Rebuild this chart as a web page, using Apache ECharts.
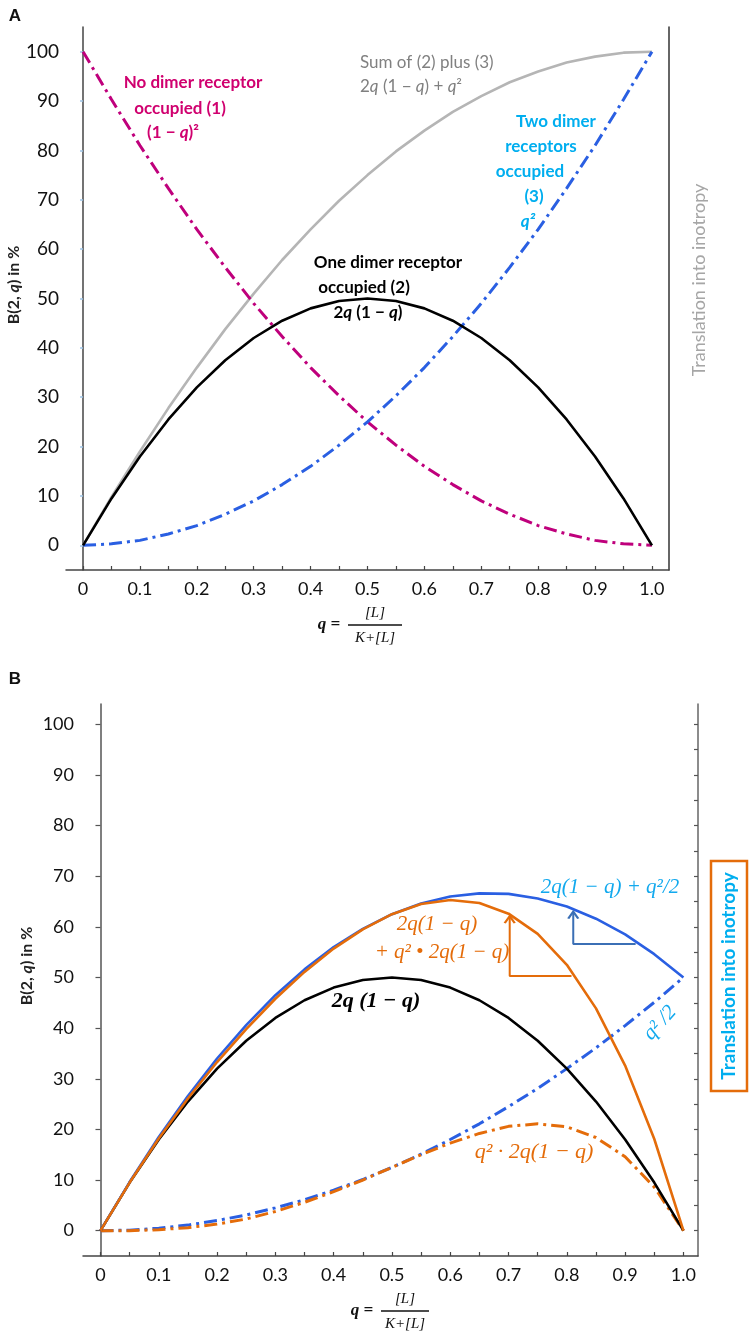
<!DOCTYPE html>
<html lang="en">
<head>
    <meta charset="UTF-8">
    <title>Dimer receptor occupancy</title>
    <script src="https://cdn.jsdelivr.net/npm/echarts@6.0.0/dist/echarts.min.js"></script>
    <style>
        html, body { margin: 0; padding: 0; background: #fff; }
        #chart { width: 751px; height: 1339px; }
    </style>
</head>
<body>
<div id="chart"></div>
<script>
    // q grid (kinks every 0.05)
    const qValues = [0, 0.05, 0.1, 0.15, 0.2, 0.25, 0.3, 0.35, 0.4, 0.45, 0.5,
        0.55, 0.6, 0.65, 0.7, 0.75, 0.8, 0.85, 0.9, 0.95, 1.0];

    // panel A
    const noDimer = [100, 90.3, 81, 72.3, 64, 56.3, 49, 42.3, 36, 30.3, 25,
        20.3, 16, 12.3, 9, 6.3, 4, 2.3, 1, 0.3, 0];
    const oneDimer = [0, 9.5, 18, 25.5, 32, 37.5, 42, 45.5, 48, 49.5, 50,
        49.5, 48, 45.5, 42, 37.5, 32, 25.5, 18, 9.5, 0];
    const twoDimer = [0, 0.3, 1, 2.3, 4, 6.3, 9, 12.3, 16, 20.3, 25,
        30.3, 36, 42.3, 49, 56.3, 64, 72.3, 81, 90.3, 100];
    const sumTwoThree = [0, 9.8, 19, 27.8, 36, 43.8, 51, 57.8, 64, 69.8, 75,
        79.8, 84, 87.8, 91, 93.8, 96, 97.8, 99, 99.8, 100];

    // panel B
    const halfTwo = [0, 0.1, 0.5, 1.1, 2, 3.1, 4.5, 6.1, 8, 10.1, 12.5,
        15.1, 18, 21.1, 24.5, 28.1, 32, 36.1, 40.5, 45.1, 50];
    const sumBlue = [0, 9.6, 18.5, 26.6, 34, 40.6, 46.5, 51.6, 56, 59.6, 62.5,
        64.6, 66, 66.6, 66.5, 65.6, 64, 61.6, 58.5, 54.6, 50];
    const twoTimesOne = [0, 0, 0.2, 0.6, 1.3, 2.3, 3.8, 5.6, 7.7, 10, 12.5,
        15, 17.3, 19.2, 20.6, 21.1, 20.5, 18.4, 14.6, 8.6, 0];
    const sumOrange = [0, 9.5, 18.2, 26.1, 33.3, 39.8, 45.8, 51.1, 55.7, 59.5, 62.5,
        64.5, 65.3, 64.7, 62.6, 58.6, 52.5, 43.9, 32.6, 18.1, 0];

    // arrows in B (q, %)
    const arrowOrange = [[0.808, 50.3], [0.702, 50.3], [0.702, 62.0]];
    const arrowBlue = [[0.918, 56.6], [0.811, 56.6], [0.811, 62.9]];

    // tick positions
    const xLabelValues = [0, 0.1, 0.2, 0.3, 0.4, 0.5, 0.6, 0.7, 0.8, 0.9, 1.0];
    const xTickValues = [0, 0.05, 0.1, 0.15, 0.2, 0.25, 0.3, 0.35, 0.4, 0.45, 0.5,
        0.55, 0.6, 0.65, 0.7, 0.75, 0.8, 0.85, 0.9, 0.95, 1.0];
    const yLabelValues = [0, 10, 20, 30, 40, 50, 60, 70, 80, 90, 100];
    const yMinorValues = [0, 5, 10, 15, 20, 25, 30, 35, 40, 45, 50, 55, 60, 65, 70,
        75, 80, 85, 90, 95, 100];

    const MAGENTA = '#bf007c', BLUE = '#2a5fe2', GRAY = '#b5b5b5',
        ORANGE = '#e46c0a', CYAN = '#12a9ee', TXT_CYAN = '#00aeef';
    const SANS = 'Lato, "Open Sans", sans-serif';
    const SERIF = '"Liberation Serif", "DejaVu Serif", serif';
    const DASHDOT = [13, 5, 3, 5];

    function pairs(arr) {
        return qValues.map(function (q, i) { return [q, arr[i]]; });
    }

    function xLabel(v) {
        if (Math.abs(v) < 1e-9) return '0';
        return v.toFixed(1);
    }

    function xAxisFor(gridIndex, fontSize) {
        return {
            type: 'value', gridIndex: gridIndex, min: -0.03, max: gridIndex === 0 ? 1.03 : 1.025,
            axisLine: {show: true, onZero: false, lineStyle: {color: '#444', width: 1.5}},
            axisTick: {show: true, inside: true, length: 4, customValues: xTickValues,
                lineStyle: {color: '#444', width: 1.2}},
            axisLabel: {customValues: xLabelValues, formatter: xLabel, color: '#111',
                fontFamily: SANS, fontSize: fontSize, margin: 10},
            splitLine: {show: false}
        };
    }

    let chart = echarts.init(document.getElementById('chart'));

    function line(name, xi, data, color, width, dash, z) {
        return {
            name: name, type: 'line', xAxisIndex: xi, yAxisIndex: xi === 0 ? 0 : 2,
            data: pairs(data), showSymbol: false, symbol: 'none', smooth: false,
            lineStyle: {color: color, width: width, type: dash || 'solid', cap: 'butt'},
            z: z || 2, silent: true, animation: false
        };
    }

    // elbow arrow with an open chevron head at its last point
    function arrow(data, color) {
        return {
            type: 'line', xAxisIndex: 1, yAxisIndex: 2, data: data,
            showSymbol: false, symbol: 'none', silent: true, animation: false, z: 5,
            lineStyle: {color: color, width: 2},
            markPoint: {
                symbol: 'path://M0,10L5,0L10,10', symbolSize: [10, 7], symbolOffset: [0, 3],
                itemStyle: {color: 'rgba(0,0,0,0)', borderColor: color, borderWidth: 2},
                label: {show: false}, silent: true,
                data: [{coord: data[data.length - 1]}]
            }
        };
    }

    function txt(x, y, text, fill, font, extra) {
        return {
            type: 'text', x: x, y: y, silent: true,
            style: Object.assign({text: text, fill: fill, font: font,
                textAlign: 'center', textVerticalAlign: 'middle'}, extra || {})
        };
    }

    function rot(el, deg) {
        el.rotation = deg * Math.PI / 180;
        return el;
    }

    const boldA = 'bold 17px ' + SANS;
    const mathFont = 'italic 21px ' + SERIF;

    function yTitle(x, y) {
        return rot({
            type: 'text', x: x, y: y, silent: true,
            style: {
                text: '{n|B(2, }{i|q}{n|) in %}',
                textAlign: 'center', textVerticalAlign: 'middle',
                rich: {
                    n: {fontFamily: SANS, fontSize: 16, fontWeight: 'bold', fill: '#222'},
                    i: {fontFamily: SANS, fontSize: 16, fontWeight: 'bold', fontStyle: 'italic', fill: '#222'}
                }
            }
        }, 90);
    }

    function xTitle(cx, cy, halfW) {
        return {
            type: 'group', silent: true,
            children: [
                txt(cx - halfW - 17, cy, 'q =', '#111', 'bold italic 17px ' + SERIF),
                txt(cx + 5, cy - 12, '[L]', '#111', 'italic 15px ' + SERIF),
                {type: 'line', shape: {x1: cx - halfW + 2, y1: cy, x2: cx + halfW + 8, y2: cy},
                    style: {stroke: '#111', lineWidth: 1.3}},
                txt(cx + 5, cy + 13, 'K+[L]', '#111', 'italic 15px ' + SERIF)
            ]
        };
    }

    const option = {
        backgroundColor: '#fff',
        animation: false,
        grid: [
            {left: 66, top: 27, width: 603, height: 543},
            {left: 83, top: 704, width: 615, height: 552}
        ],
        xAxis: [xAxisFor(0, 18), xAxisFor(1, 18)],
        yAxis: [
            {
                type: 'value', gridIndex: 0, min: -5, max: 105,
                axisLine: {show: true, lineStyle: {color: '#444', width: 1.5}},
                axisTick: {show: true, length: 3, customValues: yLabelValues,
                    lineStyle: {color: '#9cc3e6', width: 1.5}},
                axisLabel: {customValues: yLabelValues, color: '#111', fontFamily: SANS,
                    fontSize: 19, margin: 7},
                splitLine: {show: false}
            },
            {
                type: 'value', gridIndex: 0, min: -5, max: 105, position: 'right',
                axisLine: {show: true, lineStyle: {color: '#333', width: 1.5}},
                axisTick: {show: false}, axisLabel: {show: false}, splitLine: {show: false}
            },
            {
                type: 'value', gridIndex: 1, min: -5, max: 104,
                axisLine: {show: true, lineStyle: {color: '#555', width: 1.5}},
                axisTick: {show: true, length: 5, customValues: yLabelValues,
                    lineStyle: {color: '#555', width: 1.2}},
                axisLabel: {customValues: yLabelValues, color: '#111', fontFamily: SANS,
                    fontSize: 18, margin: 9},
                splitLine: {show: false}
            },
            {
                type: 'value', gridIndex: 1, min: -5, max: 104,
                axisLine: {show: false},
                axisTick: {show: true, inside: true, length: 4, customValues: yMinorValues,
                    lineStyle: {color: '#555', width: 1.2}},
                axisLabel: {show: false}, splitLine: {show: false}
            },
            {
                type: 'value', gridIndex: 1, min: -5, max: 104, position: 'right',
                axisLine: {show: true, lineStyle: {color: '#666', width: 1.5}},
                axisTick: {show: false}, axisLabel: {show: false}, splitLine: {show: false}
            }
        ],
        series: [
            line('sum (2)+(3)', 0, sumTwoThree, GRAY, 2.6),
            line('(1-q)^2', 0, noDimer, MAGENTA, 3, DASHDOT, 3),
            line('q^2', 0, twoDimer, BLUE, 3, DASHDOT, 3),
            line('2q(1-q)', 0, oneDimer, '#000', 2.6, 'solid', 4),

            line('q^2/2', 1, halfTwo, BLUE, 3, DASHDOT, 2),
            line('q^2 2q(1-q)', 1, twoTimesOne, ORANGE, 3, DASHDOT, 3),
            line('2q(1-q) B', 1, oneDimer, '#000', 2.6, 'solid', 3),
            line('2q(1-q)+q^2/2', 1, sumBlue, BLUE, 2.6, 'solid', 3),
            line('2q(1-q)+q^2 2q(1-q)', 1, sumOrange, ORANGE, 2.6, 'solid', 4),
            arrow(arrowOrange, ORANGE),
            arrow(arrowBlue, '#3b6fb5')
        ],
        graphic: [
            // panel A
            txt(15, 16, 'A', '#111', 'bold 17px "Liberation Sans", sans-serif'),
            yTitle(14, 285),
            rot(txt(699, 280, 'Translation into inotropy', '#a6a6a6', '18px ' + SANS), 90),
            txt(193, 83, 'No dimer receptor', '#d0006f', boldA),
            txt(180, 109, 'occupied (1)', '#d0006f', boldA),
            {
                type: 'text', x: 173, y: 133, silent: true,
                style: {text: '{n|(1 − }{i|q}{n|)²}', textAlign: 'center', textVerticalAlign: 'middle',
                    rich: {n: {fontFamily: SANS, fontSize: 17, fontWeight: 'bold', fill: '#d0006f'},
                        i: {fontFamily: SANS, fontSize: 17, fontWeight: 'bold', fontStyle: 'italic', fill: '#d0006f'}}}
            },
            txt(360, 63, 'Sum of (2) plus (3)', '#808080', '17px ' + SANS, {textAlign: 'left'}),
            {
                type: 'text', x: 360, y: 87, silent: true,
                style: {text: '{n|2}{i|q}{n| (1 − }{i|q}{n|) + }{i|q}{n|²}', textAlign: 'left', textVerticalAlign: 'middle',
                    rich: {n: {fontFamily: SANS, fontSize: 17, fill: '#808080'},
                        i: {fontFamily: SANS, fontSize: 17, fontStyle: 'italic', fill: '#808080'}}}
            },
            txt(556, 122, 'Two dimer', TXT_CYAN, boldA),
            txt(541, 147, 'receptors', TXT_CYAN, boldA),
            txt(530, 172, 'occupied', TXT_CYAN, boldA),
            txt(534, 197, '(3)', TXT_CYAN, boldA),
            txt(528, 222, 'q²', TXT_CYAN, 'bold italic 17px ' + SANS),
            txt(388, 263, 'One dimer receptor', '#000', boldA),
            txt(364, 288, 'occupied (2)', '#000', boldA),
            {
                type: 'text', x: 368, y: 313, silent: true,
                style: {text: '{n|2}{i|q}{n| (1 − }{i|q}{n|)}', textAlign: 'center', textVerticalAlign: 'middle',
                    rich: {n: {fontFamily: SANS, fontSize: 17, fontWeight: 'bold', fill: '#000'},
                        i: {fontFamily: SANS, fontSize: 17, fontWeight: 'bold', fontStyle: 'italic', fill: '#000'}}}
            },
            xTitle(370, 625, 24),

            // panel B
            txt(15, 679, 'B', '#111', 'bold 17px "Liberation Sans", sans-serif'),
            yTitle(27, 966),
            {type: 'rect', shape: {x: 711, y: 861, width: 36, height: 230},
                style: {fill: 'none', stroke: ORANGE, lineWidth: 2.5}, silent: true},
            rot(txt(729, 976, 'Translation into inotropy', TXT_CYAN, 'bold 19px ' + SANS), 90),
            txt(610, 887, '2q(1 − q) + q²/2', CYAN, mathFont),
            txt(437, 924, '2q(1 − q)', ORANGE, mathFont),
            txt(442, 952, '+ q² • 2q(1 − q)', ORANGE, mathFont),
            txt(376, 1001, '2q (1 − q)', '#000', 'bold italic 22px ' + SERIF),
            rot(txt(660, 1023, 'q² /2', CYAN, mathFont), 48),
            txt(534, 1152, 'q² · 2q(1 − q)', ORANGE, 'italic 22px ' + SERIF),
            xTitle(400, 1311, 21)
        ]
    };

    chart.setOption(option);
</script>
</body>
</html>
